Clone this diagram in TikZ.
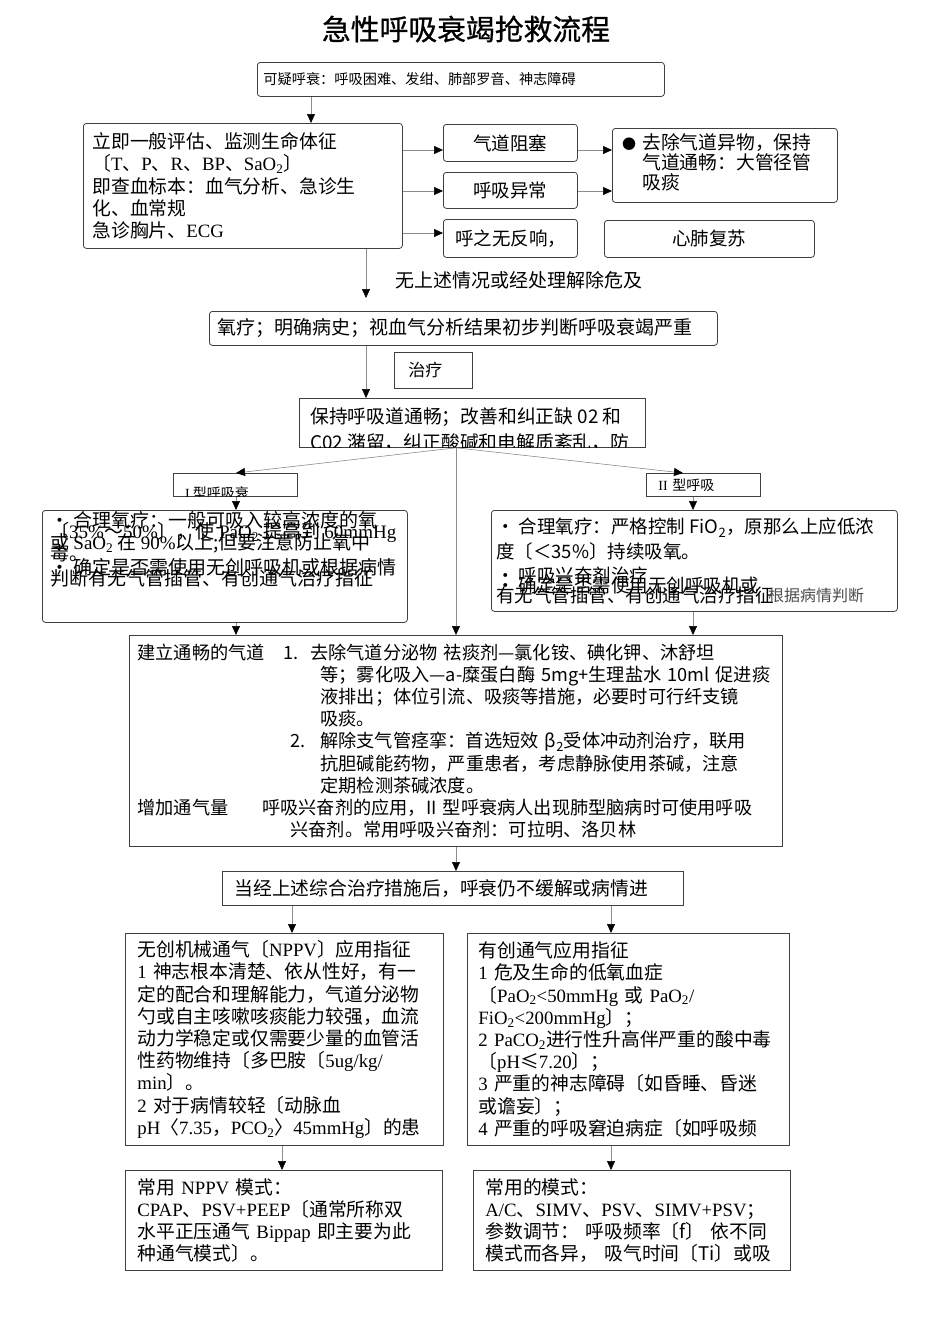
\documentclass[tikz,border=0pt]{standalone}
\usepackage{fontspec}
\setmainfont{Noto Sans CJK SC}
\newfontfamily\latinfont{Liberation Serif}
\newfontfamily\titlefont[FakeBold=0.8]{Noto Sans CJK SC}
\usetikzlibrary{arrows.meta}
\newcommand\fs[2]{\fontsize{#1}{#2}\selectfont}
\newcommand\en[1]{{\latinfont #1}}
\newcommand\overlap{\setlength{\lineskiplimit}{-100pt}\setlength{\lineskip}{0pt}}

\begin{document}
\begin{tikzpicture}[x=1pt,y=1pt,yscale=-1,
  rbox/.style={draw=black!75,line width=0.8pt,rounded corners=3pt,anchor=north west,inner sep=0pt},
  sbox/.style={draw=black!75,line width=0.8pt,anchor=north west,inner sep=0pt},
  body/.style={font=\fs{18.8}{22.2},align=left},
  arr/.style={draw=black!45,line width=0.6pt,-{Triangle[length=9pt,width=8pt,color=black]}}]

\useasboundingbox (0,0) rectangle (950,1344);

\coordinate (c1) at (311,0);
\coordinate (c2) at (366,0);
\coordinate (c3) at (456,0);
\coordinate (c4) at (683,0);
\coordinate (c5) at (236,0);
\coordinate (c6) at (693,0);
\coordinate (c7) at (292,0);
\coordinate (c8) at (611,0);
\coordinate (c9) at (282,0);
\coordinate (r1) at (0,150);
\coordinate (r2) at (0,191);
\coordinate (r3) at (0,233);

\node[font={\titlefont\fs{28.8}{30}}] (title) at (466,29) {急性呼吸衰竭抢救流程};

\node[rbox,minimum height=34pt,text width=395pt,inner xsep=6pt,align=left,font=\fs{14.2}{16}] (suspect) at (257,62) {可疑呼衰：呼吸困难、发绀、肺部罗音、神志障碍};

\node[rbox,minimum height=125pt,text width=301pt,inner xsep=9pt,body] (assess) at (83,123) {立即一般评估、监测生命体征\\〔\en{T}、\en{P}、\en{R}、\en{BP}、\en{SaO\textsubscript{2}}〕\\即查血标本：血气分析、急诊生\\化、血常规\\急诊胸片、\en{ECG}};

\node[rbox,minimum width=134pt,minimum height=37pt,font=\fs{18.5}{20}] (obst) at (443,124) {气道阻塞};
\node[rbox,minimum width=134pt,minimum height=36pt,font=\fs{18.5}{20}] (abn) at (443,172) {呼吸异常};
\node[rbox,minimum height=38pt,text width=110pt,inner xsep=12pt,align=left,font=\fs{18.5}{20}] (noresp) at (443,219) {呼之无反响，};

\node[rbox,minimum width=225pt,minimum height=74pt] (clear) at (612,128) {};
\begin{scope}
\clip (clear.north west) rectangle (clear.south east);
\node[anchor=north west,inner sep=0pt,align=left,font=\fs{18.8}{20}] (cleartxt) at (622,133) {{\fs{14}{14}●}\hspace{6pt}去除气道异物，保持\\\hspace*{20pt}气道通畅：大管径管\\\hspace*{20pt}吸痰};
\end{scope}
\node[rbox,minimum width=210pt,minimum height=37pt,font=\fs{18.5}{20}] (cpr) at (604,220) {心肺复苏};

\node[anchor=west,inner sep=0pt,font=\fs{19}{20}] (cond) at (395,280) {无上述情况或经处理解除危及};

\node[rbox,minimum height=34pt,text width=492pt,inner xsep=8pt,align=left,font=\fs{19}{20}] (oxy) at (209,311) {氧疗；明确病史；视血气分析结果初步判断呼吸衰竭严重};

\node[sbox,minimum height=36pt,text width=50pt,inner xsep=14pt,align=left,font=\fs{17}{18}] (treat) at (394,352) {治疗};

\node[sbox,minimum width=346pt,minimum height=49pt] (keep) at (299,398) {};
\begin{scope}
\clip (keep.north west) rectangle (keep.south east);
\node[anchor=north west,inner sep=0pt,align=left,font=\fs{18.8}{26.5}] (keeptxt) at (310,407) {保持呼吸道通畅；改善和纠正缺 02 和\\C02 潴留，纠正酸碱和电解质紊乱，防};
\end{scope}

\node[sbox,minimum width=124pt,minimum height=23pt] (typeI) at (173,473) {};
\begin{scope}
\clip (typeI.north west) rectangle (typeI.south east);
\node[anchor=west,inner sep=0pt,font=\fs{14}{15}] (typeItxt) at (185,493) {\en{I} 型呼吸衰};
\end{scope}
\node[sbox,minimum height=23pt,text width=90pt,inner xsep=12pt,align=left,font=\fs{14}{15}] (typeII) at (646,473) {\en{II} 型呼吸};

\node[rbox,minimum width=365pt,minimum height=112pt] (hypox) at (42,510) {};
\node[anchor=north west,inner sep=0pt,align=left,font={\fs{19}{11}\overlap}] (hypoxtxt) at (50,511) {•\ 合理氧疗：一般可吸入较高浓度的氧\\〔\en{35\%}～\en{50\%}〕，使 \en{PaO\textsubscript{2}} 提高到 \en{60mmHg}\\或 \en{SaO\textsubscript{2}} 在 \en{90\%}以上;但要注意防止氧中\\毒。\\[3pt]•\ 确定是否需使用无创呼吸机或根据病情\\判断有无气管插管、有创通气治疗指征};

\node[rbox,minimum width=406pt,minimum height=101pt] (hypercap) at (491,510) {};
\node[anchor=north west,inner sep=0pt,align=left,font={\fs{18.5}{24.5}\overlap}] (hypercaptxt) at (496,518) {•\ 合理氧疗：严格控制 FiO\textsubscript{2}，原那么上应低浓\\度〔＜35\%〕持续吸氧。\\•\ 呼吸兴奋剂治疗\\[-14.5pt]•\ 确定是否需使用无创呼吸机或\\[-14.5pt]有无气管插管、有创通气治疗指征};
\node[anchor=west,inner sep=0pt,font=\fs{16}{17},text=black!70] (hypercapend) at (768,595) {根据病情判断};

\node[sbox,minimum height=211pt,text width=637pt,inner xsep=8pt,align=left,font=\fs{18.2}{22.2}] (airway) at (129,635) {\makebox[146pt][l]{建立通畅的气道}\makebox[27pt][l]{1.}去除气道分泌物~祛痰剂—氯化铵、碘化钾、沐舒坦\\
\hspace*{183pt}等；雾化吸入—a-糜蛋白酶~5mg+生理盐水~10ml~促进痰\\
\hspace*{183pt}液排出；体位引流、吸痰等措施，必要时可行纤支镜\\
\hspace*{183pt}吸痰。\\
\hspace*{153pt}\makebox[30pt][l]{2.}解除支气管痉挛：首选短效~β\textsubscript{2}受体冲动剂治疗，联用\\
\hspace*{183pt}抗胆碱能药物，严重患者，考虑静脉使用茶碱，注意\\
\hspace*{183pt}定期检测茶碱浓度。\\
\makebox[125pt][l]{增加通气量}呼吸兴奋剂的应用，II~型呼衰病人出现肺型脑病时可使用呼吸\\
\hspace*{153pt}兴奋剂。常用呼吸兴奋剂：可拉明、洛贝林};

\node[sbox,minimum height=34pt,text width=437pt,inner xsep=12pt,align=left,font=\fs{18.8}{20}] (persist) at (222,871) {当经上述综合治疗措施后，呼衰仍不缓解或病情进};

\node[sbox,minimum height=212pt,text width=294pt,inner xsep=12pt,body] (niv) at (125,933) {无创机械通气〔\en{NPPV}〕应用指征\\
\en{1}~神志根本清楚、依从性好，有一\\
定的配合和理解能力，气道分泌物\\
勺或自主咳嗽咳痰能力较强，血流\\
动力学稳定或仅需要少量的血管活\\
性药物维持〔多巴胺〔\en{5ug/kg/}\\
\en{min}〕。\\
\en{2}~对于病情较轻〔动脉血\\
\en{pH}〈\en{7.35}，\en{PCO\textsubscript{2}}〉\en{45mmHg}〕的患};

\node[sbox,minimum height=212pt,text width=300pt,inner xsep=11pt,body] (inv) at (467,933) {有创通气应用指征\\
\en{1}~危及生命的低氧血症\\
〔\en{PaO\textsubscript{2}<50mmHg}~或~\en{PaO\textsubscript{2}/}\\
\en{FiO\textsubscript{2}<200mmHg}〕；\\
\en{2}~\en{PaCO\textsubscript{2}}进行性升高伴严重的酸中毒\\
〔\en{pH}≤\en{7.20}〕；\\
\en{3}~严重的神志障碍〔如昏睡、昏迷\\
或谵妄〕；\\
\en{4}~严重的呼吸窘迫病症〔如呼吸频};

\node[sbox,minimum height=100pt,text width=293pt,inner xsep=12pt,body] (nppv) at (125,1170) {常用~\en{NPPV}~模式：\\
\en{CPAP}、\en{PSV+PEEP}〔通常所称双\\
水平正压通气~\en{Bippap}~即主要为此\\
种通气模式〕。};

\node[sbox,minimum height=100pt,text width=293pt,inner xsep=12pt,body] (modes) at (473,1170) {常用的模式：\\
\en{A/C}、\en{SIMV}、\en{PSV}、\en{SIMV+PSV}；\\
参数调节：~呼吸频率〔f〕~依不同\\
模式而各异，~吸气时间〔Ti〕或吸};

\draw[arr] (suspect.south -| c1) -- (assess.north -| c1);
\draw[arr] (assess.east |- r1) -- (obst.west |- r1);
\draw[arr] (assess.east |- r2) -- (abn.west |- r2);
\draw[arr] (assess.east |- r3) -- (noresp.west |- r3);
\draw[arr] (obst.east |- r1) -- (clear.west |- r1);
\draw[arr] (abn.east |- r2) -- (clear.west |- r2);
\draw[arr,shorten >=13pt] (assess.south -| c2) -- (oxy.north -| c2);
\draw[arr] (oxy.south -| c2) -- (keep.north -| c2);
\draw[arr] (keep.south -| c3) -- (typeI.north -| c5);
\draw[arr] (keep.south -| c3) -- (typeII.north -| c4);
\draw[arr] (keep.south -| c3) -- (airway.north -| c3);
\draw[arr] (typeI.south -| c5) -- (hypox.north -| c5);
\draw[arr] (typeII.south -| c6) -- (hypercap.north -| c6);
\draw[arr] (hypox.south -| c5) -- (airway.north -| c5);
\draw[arr] (hypercap.south -| c6) -- (airway.north -| c6);
\draw[arr] (airway.south -| c3) -- (persist.north -| c3);
\draw[arr] (persist.south -| c7) -- (niv.north -| c7);
\draw[arr] (persist.south -| c8) -- (inv.north -| c8);
\draw[arr] (niv.south -| c9) -- (nppv.north -| c9);
\draw[arr] (inv.south -| c8) -- (modes.north -| c8);

\end{tikzpicture}
\end{document}
